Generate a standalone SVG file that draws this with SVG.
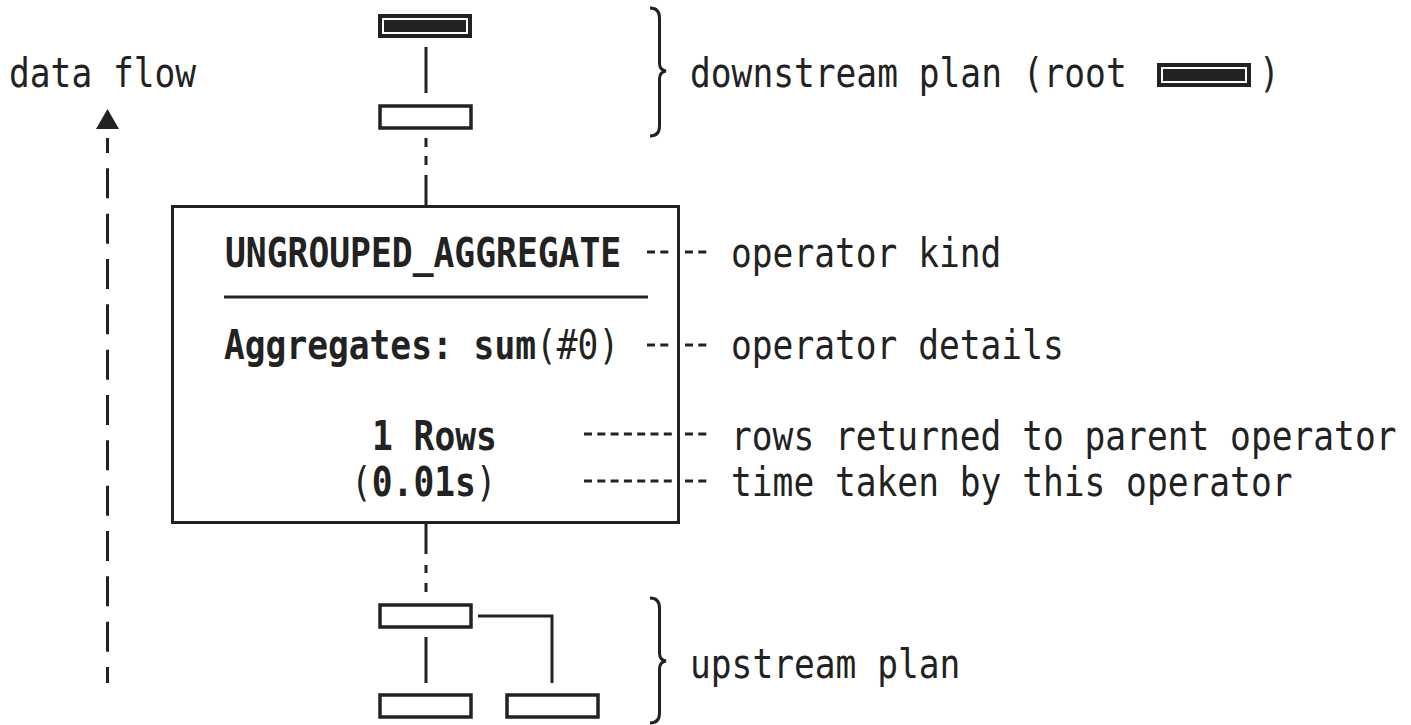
<svg xmlns="http://www.w3.org/2000/svg" width="1411" height="725" viewBox="0 0 1411 725">
<style>
.t{font-family:"DejaVu Sans Mono","Liberation Mono",monospace;font-size:40px;fill:#222}
.b{font-weight:bold}
.ln{stroke:#222;stroke-width:3;fill:none}
.box{stroke:#222;stroke-width:3.5;fill:#fff}
.dash{stroke:#222;stroke-width:3;fill:none;stroke-dasharray:8 5.3}
</style>
<rect width="1411" height="725" fill="#fff"/>
<g id="connectors">
<line class="ln" x1="426" y1="47" x2="426" y2="93"/>
<path class="ln" d="M426,138V147M426,156V165M426,175V206"/>
<path class="ln" d="M426,523V554M426,565V573M426,583V592"/>
<line class="ln" x1="426" y1="637" x2="426" y2="683"/>
<path class="ln" d="M478,616H552V683"/>
<line class="ln" x1="107.5" y1="138" x2="107.5" y2="683" style="stroke-dasharray:30 15.33;stroke-dashoffset:15"/>
<polygon points="107.5,109 119,129 96,129" fill="#222"/>
<path class="dash" d="M647,252H672M685,252H711"/>
<path class="dash" d="M647,345H672M685,345H711"/>
<path class="dash" d="M584,434H672M685,434H711"/>
<path class="dash" d="M584,481H672M685,481H711"/>
<path class="ln" d="M650,8Q659.5,8 659.5,18V63Q659.5,70 666,71Q659.5,72 659.5,79V126Q659.5,136 650,136"/>
<path class="ln" d="M650,598Q659.5,598 659.5,608V653Q659.5,660 666,661Q659.5,662 659.5,669V713Q659.5,723 650,723"/>
</g>
<g id="root">
<rect x="380" y="16" width="90" height="20" stroke="#222" stroke-width="4" fill="#fff"/>
<rect x="384" y="20" width="82" height="12" fill="#222"/>
</g>
<g id="child"><rect class="box" x="380" y="106" width="91" height="22"/></g>
<g id="operator">
<rect x="172.5" y="206.5" width="506" height="316" stroke="#222" stroke-width="3" fill="none"/>
<line class="ln" x1="224" y1="297" x2="648" y2="297"/>
<text class="t b" transform="translate(225,267) scale(0.866,1)">UNGROUPED_AGGREGATE</text>
<text class="t b" transform="translate(224,359) scale(0.864,1)">Aggregates:</text>
<text class="t b" transform="translate(473.6,359) scale(0.864,1)">sum</text>
<text class="t" transform="translate(536,359) scale(0.864,1)">(#0)</text>
<text class="t b" transform="translate(372,450) scale(0.864,1)">1 Rows</text>
<text class="t" transform="translate(351,496) scale(0.864,1)">(</text>
<text class="t b" transform="translate(371.8,496) scale(0.864,1)">0.01s</text>
<text class="t" transform="translate(475.8,496) scale(0.864,1)">)</text>
</g>
<g id="upstream1"><rect class="box" x="380" y="605" width="91" height="22"/></g>
<g id="upstream2"><rect class="box" x="380" y="695" width="91" height="22"/></g>
<g id="upstream3"><rect class="box" x="507" y="695" width="91" height="22"/></g>
<g id="labels">
<text class="t" transform="translate(9,87) scale(0.864,1)">data flow</text>
<text class="t" transform="translate(690,87) scale(0.864,1)">downstream plan (root</text>
<rect x="1159" y="65" width="90" height="20" stroke="#222" stroke-width="4" fill="#fff"/>
<rect x="1163" y="69" width="82" height="12" fill="#222"/>
<text class="t" transform="translate(1259,87) scale(0.864,1)">)</text>
<text class="t" transform="translate(731,267) scale(0.864,1)">operator kind</text>
<text class="t" transform="translate(731,359) scale(0.864,1)">operator details</text>
<text class="t" transform="translate(731,450) scale(0.864,1)">rows returned to parent operator</text>
<text class="t" transform="translate(731,496) scale(0.864,1)">time taken by this operator</text>
<text class="t" transform="translate(690,678) scale(0.864,1)">upstream plan</text>
</g>
</svg>
